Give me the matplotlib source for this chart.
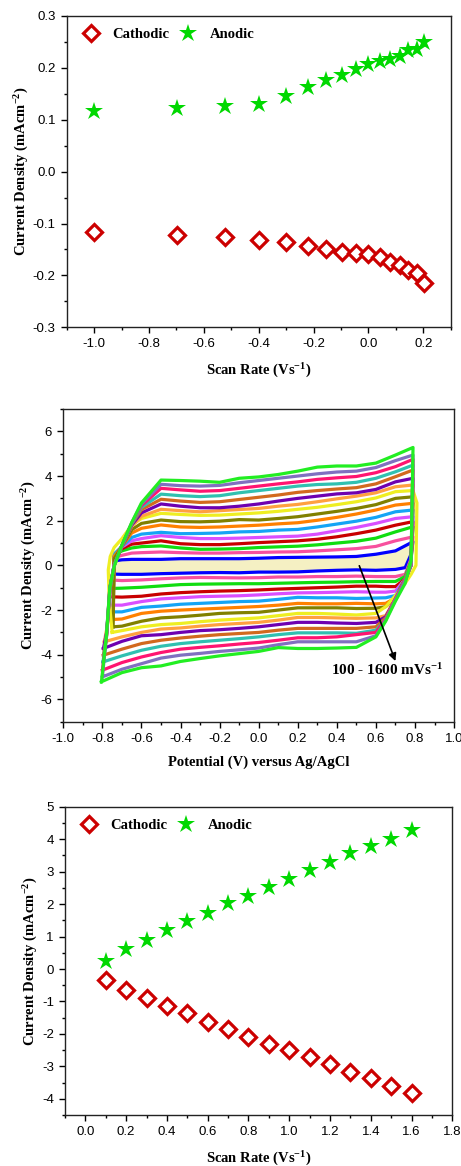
import matplotlib
matplotlib.use('Agg')
import matplotlib.pyplot as plt
from matplotlib.ticker import MultipleLocator

plt.rcParams['font.family'] = 'Liberation Sans'
plt.rcParams['axes.unicode_minus'] = False
plt.rcParams['mathtext.fontset'] = 'custom'
plt.rcParams['mathtext.rm'] = 'Liberation Serif:bold'
plt.rcParams['mathtext.it'] = 'Liberation Serif:bold'
plt.rcParams['mathtext.bf'] = 'Liberation Serif:bold'

# ---- panel 1 : peak current vs log(scan rate) ----
log_rate = [-1.0, -0.699, -0.523, -0.398, -0.301, -0.222, -0.155, -0.097,
            -0.046, 0.0, 0.041, 0.079, 0.114, 0.146, 0.176, 0.204]
log_anodic = [0.117, 0.123, 0.126, 0.130, 0.146, 0.164, 0.177, 0.186,
              0.197, 0.208, 0.213, 0.218, 0.223, 0.234, 0.236, 0.249]
log_cathodic = [-0.117, -0.122, -0.126, -0.132, -0.136, -0.143, -0.150, -0.155,
                -0.157, -0.159, -0.164, -0.175, -0.180, -0.190, -0.195, -0.215]

# ---- panel 3 : peak current vs scan rate ----
scan_rate = [0.1, 0.2, 0.3, 0.4, 0.5, 0.6, 0.7, 0.8,
             0.9, 1.0, 1.1, 1.2, 1.3, 1.4, 1.5, 1.6]
anodic = [0.24, 0.62, 0.90, 1.21, 1.47, 1.72, 2.03, 2.26,
          2.52, 2.78, 3.04, 3.31, 3.56, 3.79, 4.01, 4.28]
cathodic = [-0.35, -0.64, -0.88, -1.13, -1.35, -1.63, -1.86, -2.09,
            -2.30, -2.50, -2.71, -2.92, -3.16, -3.35, -3.59, -3.82]

# ---- panel 2 : cyclic voltammograms, 100 - 1600 mV/s ----
cv_rates = [100, 200, 300, 400, 500, 600, 700, 800,
            900, 1000, 1100, 1200, 1300, 1400, 1500, 1600]
cv_colors = ['#0000FF', '#F7509E', '#10DD10', '#C80000', '#D94FFF', '#14A4F5',
             '#FF8000', '#808000', '#EEEE22', '#FFA040', '#6E00B0', '#D2691E',
             '#30C0B0', '#FF1470', '#8070C0', '#22EE22']

# anodic sweep potentials (V)
cv_up_E = [-0.74, -0.7, -0.65, -0.6, -0.5, -0.4, -0.3, -0.2, -0.1, 0.0,
           0.1, 0.2, 0.3, 0.4, 0.5, 0.6, 0.7, 0.79]
# cathodic sweep potentials (V)
cv_dn_E = [0.78, 0.75, 0.7, 0.65, 0.6, 0.5, 0.4, 0.3, 0.2, 0.1, 0.0,
           -0.1, -0.2, -0.3, -0.4, -0.5, -0.6, -0.7]

cv_up_I = [
    [0.20, 0.25, 0.27, 0.27, 0.27, 0.30, 0.30, 0.30, 0.30, 0.32, 0.35, 0.36, 0.37, 0.38, 0.40, 0.50, 0.65, 1.06],
    [0.35, 0.45, 0.55, 0.57, 0.60, 0.57, 0.55, 0.55, 0.57, 0.58, 0.60, 0.61, 0.65, 0.70, 0.75, 0.85, 1.10, 1.28],
    [0.45, 0.65, 0.78, 0.84, 0.87, 0.78, 0.72, 0.73, 0.75, 0.80, 0.83, 0.86, 0.92, 1.00, 1.08, 1.22, 1.50, 1.73],
    [0.50, 0.75, 0.95, 1.00, 1.10, 0.97, 0.93, 0.93, 0.97, 1.02, 1.06, 1.10, 1.17, 1.28, 1.42, 1.58, 1.80, 1.96],
    [0.50, 0.82, 1.10, 1.20, 1.33, 1.25, 1.20, 1.20, 1.22, 1.25, 1.28, 1.31, 1.40, 1.55, 1.70, 1.88, 2.10, 2.18],
    [0.50, 0.85, 1.25, 1.40, 1.48, 1.42, 1.43, 1.45, 1.50, 1.52, 1.58, 1.61, 1.72, 1.85, 1.98, 2.15, 2.40, 2.48],
    [0.40, 0.85, 1.45, 1.66, 1.81, 1.72, 1.70, 1.72, 1.76, 1.80, 1.86, 1.91, 2.02, 2.15, 2.30, 2.48, 2.70, 2.78],
    [0.30, 0.85, 1.60, 1.88, 2.03, 1.96, 1.95, 1.98, 2.05, 2.03, 2.10, 2.18, 2.30, 2.42, 2.55, 2.72, 3.00, 3.07],
    [0.80, 1.20, 1.80, 2.10, 2.33, 2.28, 2.24, 2.25, 2.30, 2.35, 2.42, 2.51, 2.60, 2.72, 2.85, 3.02, 3.30, 3.35],
    [0.00, 0.85, 1.75, 2.20, 2.51, 2.45, 2.40, 2.45, 2.50, 2.55, 2.65, 2.73, 2.85, 2.98, 3.10, 3.25, 3.52, 3.60],
    [0.00, 0.85, 1.80, 2.35, 2.75, 2.65, 2.58, 2.58, 2.65, 2.75, 2.88, 3.00, 3.10, 3.20, 3.25, 3.40, 3.74, 3.90],
    [0.00, 0.88, 1.85, 2.50, 2.96, 2.88, 2.82, 2.85, 2.95, 3.05, 3.15, 3.27, 3.35, 3.42, 3.48, 3.65, 3.97, 4.27],
    [0.00, 0.88, 1.85, 2.60, 3.19, 3.12, 3.08, 3.12, 3.25, 3.35, 3.45, 3.55, 3.62, 3.65, 3.72, 3.90, 4.19, 4.49],
    [0.00, 0.90, 1.88, 2.68, 3.45, 3.38, 3.32, 3.35, 3.45, 3.55, 3.65, 3.74, 3.85, 3.92, 3.98, 4.15, 4.42, 4.75],
    [0.00, 0.90, 1.90, 2.75, 3.63, 3.57, 3.55, 3.58, 3.70, 3.80, 3.90, 4.00, 4.10, 4.18, 4.22, 4.38, 4.69, 4.94],
    [-0.05, 0.92, 1.92, 2.80, 3.82, 3.80, 3.77, 3.72, 3.90, 3.96, 4.07, 4.22, 4.40, 4.45, 4.45, 4.58, 4.94, 5.28],
]

cv_dn_I = [
    [0.50, -0.10, -0.18, -0.20, -0.22, -0.20, -0.22, -0.25, -0.29, -0.30, -0.30, -0.33, -0.32, -0.33, -0.35, -0.37, -0.40, -0.40],
    [0.30, -0.40, -0.50, -0.50, -0.50, -0.48, -0.50, -0.50, -0.52, -0.52, -0.55, -0.56, -0.55, -0.54, -0.56, -0.60, -0.65, -0.68],
    [0.20, -0.50, -0.72, -0.72, -0.72, -0.73, -0.75, -0.76, -0.78, -0.80, -0.82, -0.82, -0.83, -0.84, -0.86, -0.92, -0.98, -1.02],
    [0.10, -0.60, -0.95, -0.95, -0.93, -0.93, -0.97, -1.00, -1.03, -1.06, -1.10, -1.13, -1.15, -1.18, -1.22, -1.28, -1.38, -1.42],
    [0.10, -0.60, -1.15, -1.20, -1.20, -1.18, -1.20, -1.22, -1.23, -1.27, -1.32, -1.36, -1.38, -1.40, -1.45, -1.50, -1.62, -1.78],
    [0.10, -0.60, -1.35, -1.45, -1.46, -1.48, -1.45, -1.45, -1.43, -1.52, -1.60, -1.62, -1.66, -1.70, -1.74, -1.82, -1.88, -2.08],
    [0.10, -0.60, -1.45, -1.70, -1.72, -1.70, -1.72, -1.72, -1.70, -1.78, -1.84, -1.88, -1.92, -1.96, -2.00, -2.05, -2.15, -2.40],
    [0.00, -0.60, -1.45, -1.85, -1.92, -1.93, -1.90, -1.90, -1.90, -2.00, -2.10, -2.12, -2.15, -2.23, -2.30, -2.35, -2.50, -2.72],
    [-0.40, -0.80, -1.35, -1.85, -2.15, -2.22, -2.18, -2.15, -2.15, -2.25, -2.35, -2.40, -2.45, -2.52, -2.60, -2.65, -2.75, -2.92],
    [0.00, -0.65, -1.50, -2.25, -2.35, -2.37, -2.35, -2.33, -2.33, -2.45, -2.55, -2.60, -2.65, -2.72, -2.80, -2.85, -3.00, -3.20],
    [0.00, -0.65, -1.50, -2.30, -2.55, -2.60, -2.58, -2.55, -2.55, -2.65, -2.75, -2.82, -2.88, -2.92, -3.00, -3.10, -3.15, -3.40],
    [0.00, -0.65, -1.50, -2.35, -2.75, -2.82, -2.82, -2.82, -2.82, -2.90, -3.00, -3.05, -3.10, -3.17, -3.25, -3.35, -3.50, -3.75],
    [0.00, -0.65, -1.50, -2.40, -2.90, -3.04, -3.02, -3.02, -3.02, -3.10, -3.20, -3.28, -3.35, -3.42, -3.50, -3.62, -3.80, -4.05],
    [0.05, -0.65, -1.50, -2.40, -3.00, -3.10, -3.20, -3.24, -3.24, -3.35, -3.45, -3.52, -3.60, -3.67, -3.75, -3.90, -4.10, -4.35],
    [0.10, -0.70, -1.55, -2.45, -3.15, -3.42, -3.42, -3.42, -3.42, -3.55, -3.70, -3.78, -3.85, -3.94, -4.02, -4.15, -4.40, -4.65],
    [0.20, -0.80, -1.60, -2.50, -3.20, -3.67, -3.70, -3.72, -3.72, -3.68, -3.85, -3.95, -4.05, -4.17, -4.30, -4.50, -4.58, -4.80],
]

# left (switching) edge of each loop, bottom to top
cv_left_E = [[-0.745], [-0.745], [-0.745], [-0.745], [-0.745], [-0.745], [-0.745], [-0.745],
             [-0.75, -0.765, -0.77, -0.76],
             [-0.79, -0.775, -0.76], [-0.795, -0.778, -0.761], [-0.795, -0.778, -0.761],
             [-0.797, -0.779, -0.761], [-0.8, -0.779, -0.762], [-0.8, -0.78, -0.762],
             [-0.805, -0.78, -0.762]]
cv_left_I = [[-0.39], [-0.66], [-1.03], [-1.41], [-1.78], [-2.08], [-2.42], [-2.75],
             [-3.0, -1.6, -0.2, 0.4],
             [-3.42, -2.7, -1.0], [-3.72, -3.0, -1.0], [-4.02, -3.1, -1.0],
             [-4.32, -3.15, -1.0], [-4.69, -3.2, -1.0], [-4.99, -3.2, -1.0],
             [-5.21, -3.2, -1.0]]
# extra points on the right (switching) edge
cv_right_E = [[], [], [], [], [], [], [], [], [0.81, 0.805], [], [], [], [], [], [], []]
cv_right_I = [[], [], [], [], [], [], [], [], [2.8, 0.0], [], [], [], [], [], [], []]

serif_bold = {'family': 'Liberation Serif', 'weight': 'bold'}


def style_axes(ax):
    for s in ax.spines.values():
        s.set_linewidth(1.0)
        s.set_color('#222222')
    ax.tick_params(which='major', direction='out', length=4.5, width=1.0,
                   labelsize=9.5, top=False, right=False)
    ax.tick_params(which='minor', direction='out', length=2.5, width=1.0,
                   top=False, right=False)


def peak_panel(ax, x, y_cat, y_an):
    ax.plot(x, y_cat, 'D', mfc='white', mec='#CC0000', ms=8, mew=2.3,
            linestyle='none', label='Cathodic')
    ax.plot(x, y_an, '*', color='#00D800', ms=13.5, mew=0,
            linestyle='none', label='Anodic')
    ax.legend(loc='upper left', ncol=2, frameon=False, prop=dict(size=10.5, **serif_bold),
              handletextpad=0.7, columnspacing=0.45, handlelength=1.6,
              borderaxespad=0.3, bbox_to_anchor=(0.005, 0.995))
    ax.set_ylabel('Current Density (mAcm$^{-2}$)', fontsize=10.5, fontdict=serif_bold,
                  labelpad=1.5)
    ax.set_xlabel('Scan Rate (Vs$^{-1}$)', fontsize=10.5, fontdict=serif_bold, labelpad=8)
    style_axes(ax)


fig = plt.figure(figsize=(4.61, 11.66), dpi=100)

# panel 1
ax1 = fig.add_axes([0.1447, 0.7193, 0.833, 0.267])
peak_panel(ax1, log_rate, log_cathodic, log_anodic)
ax1.set_xlim(-1.1, 0.3)
ax1.set_ylim(-0.3, 0.3)
ax1.set_xticks([-1.0, -0.8, -0.6, -0.4, -0.2, 0.0, 0.2])
ax1.set_xticklabels(['-1.0', '-0.8', '-0.6', '-0.4', '-0.2', '0.0', '0.2'])
ax1.xaxis.set_minor_locator(MultipleLocator(0.1))
ax1.set_yticks([-0.3, -0.2, -0.1, 0.0, 0.1, 0.2, 0.3])
ax1.set_yticklabels(['-0.3', '-0.2', '-0.1', '0.0', '0.1', '0.2', '0.3'])
ax1.yaxis.set_minor_locator(MultipleLocator(0.05))
ax1.set_ylim(-0.3, 0.3)

# panel 2
ax2 = fig.add_axes([0.1374, 0.3810, 0.8475, 0.2682])
for k in range(len(cv_rates)):
    E = cv_left_E[k] + cv_up_E + cv_right_E[k] + cv_dn_E + [cv_left_E[k][0]]
    I = cv_left_I[k] + cv_up_I[k] + cv_right_I[k] + cv_dn_I[k] + [cv_left_I[k][0]]
    if k == 0:
        ax2.fill(E, I, color='#F5F0C3', lw=0, zorder=1)
    ax2.plot(E, I, color=cv_colors[k], lw=2.3, solid_joinstyle='round', zorder=2 + k)
ax2.annotate('', xy=(0.705, -4.4), xytext=(0.51, 0.1),
             arrowprops=dict(arrowstyle='-|>', color='black', lw=1.2, mutation_scale=11),
             zorder=30)
ax2.text(0.66, -4.7, '100 - 1600 mVs$^{-1}$', ha='center', va='center',
         fontsize=11, fontdict=serif_bold, zorder=30)
ax2.set_xlim(-1.0, 1.0)
ax2.set_ylim(-7, 7)
ax2.set_xticks([-1.0, -0.8, -0.6, -0.4, -0.2, 0.0, 0.2, 0.4, 0.6, 0.8, 1.0])
ax2.set_xticklabels(['-1.0', '-0.8', '-0.6', '-0.4', '-0.2', '0.0', '0.2', '0.4', '0.6', '0.8', '1.0'])
ax2.xaxis.set_minor_locator(MultipleLocator(0.1))
ax2.set_yticks([-6, -4, -2, 0, 2, 4, 6])
ax2.yaxis.set_minor_locator(MultipleLocator(1))
ax2.set_ylabel('Current Density (mAcm$^{-2}$)', fontsize=10.5, fontdict=serif_bold,
               labelpad=2)
ax2.set_xlabel('Potential (V) versus Ag/AgCl', fontsize=10.5, fontdict=serif_bold, labelpad=8)
style_axes(ax2)

# panel 3
ax3 = fig.add_axes([0.141, 0.0437, 0.8402, 0.2644])
peak_panel(ax3, scan_rate, cathodic, anodic)
ax3.set_xlim(-0.1, 1.8)
ax3.set_ylim(-4.5, 5)
ax3.set_xticks([0.0, 0.2, 0.4, 0.6, 0.8, 1.0, 1.2, 1.4, 1.6, 1.8])
ax3.set_xticklabels(['0.0', '0.2', '0.4', '0.6', '0.8', '1.0', '1.2', '1.4', '1.6', '1.8'])
ax3.xaxis.set_minor_locator(MultipleLocator(0.1))
ax3.yaxis.set_major_locator(MultipleLocator(1))
ax3.yaxis.set_minor_locator(MultipleLocator(0.5))

fig.savefig('out.png', dpi=100)
